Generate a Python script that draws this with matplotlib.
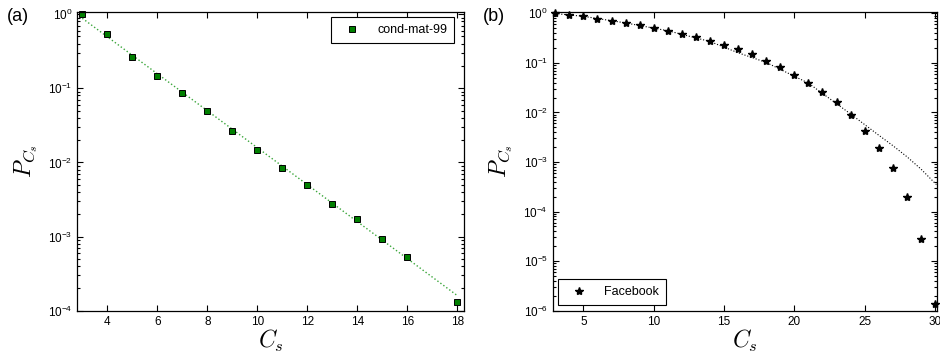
import matplotlib
matplotlib.use("Agg")
import matplotlib.pyplot as plt
from matplotlib.ticker import LogLocator, NullFormatter

plt.rcParams["font.family"] = ["Liberation Sans", "DejaVu Sans"]

# (a) cond-mat-99
cs_a = [3, 4, 5, 6, 7, 8, 9, 10, 11, 12, 13, 14, 15, 16, 18]
p_a = [1.0, 0.54, 0.267, 0.148, 0.0872, 0.0498, 0.0267, 0.0148, 0.0083,
       0.00489, 0.00276, 0.00171, 0.00092, 0.000525, 0.000131]
fit_a_x = [3, 18]
fit_a_y = [0.88, 1.6e-4]

# (b) Facebook
cs_b = list(range(3, 31))
p_b = [1.0, 0.94, 0.87, 0.78, 0.70, 0.64, 0.57, 0.505, 0.446, 0.388, 0.332,
       0.275, 0.232, 0.187, 0.151, 0.110, 0.081, 0.0558, 0.0391, 0.0253,
       0.0159, 0.00895, 0.00419, 0.0019, 0.00077, 0.000197, 2.85e-5, 1.34e-6]
fit_b_x = [2.8, 5, 8, 11, 14, 16, 18, 21, 24, 26, 27, 28, 29, 30.1]
fit_b_y = [1.0, 0.87, 0.64, 0.445, 0.27, 0.16, 0.102, 0.039, 0.0093,
           0.00347, 0.00214, 0.00128, 0.00072, 0.00035]

fig = plt.figure(figsize=(9.4, 3.6), dpi=100)
ax1 = fig.add_axes([0.0822, 0.137, 0.4117, 0.8306])
ax2 = fig.add_axes([0.588, 0.137, 0.4085, 0.8306])

ax1.plot(fit_a_x, fit_a_y, ls=":", color="#3aa63a", lw=1.0)
ax1.plot(cs_a, p_a, ls="none", marker="s", ms=4.5, mfc="#007f00",
         mec="black", mew=0.7, label="cond-mat-99", clip_on=False)
ax1.set_xlim(2.8, 18.28)
ax1.set_ylim(1e-4, 1.08)
ax1.set_xticks([4, 6, 8, 10, 12, 14, 16, 18])

ax2.plot(fit_b_x, fit_b_y, ls=":", color="black", lw=0.8)
ax2.plot(cs_b, p_b, ls="none", marker="*", ms=6, color="black",
         label="Facebook", clip_on=False)
ax2.set_xlim(2.82, 30.12)
ax2.set_ylim(1e-6, 1.08)
ax2.set_xticks([5, 10, 15, 20, 25, 30])

for ax in (ax1, ax2):
    ax.set_yscale("log")
    ax.yaxis.set_major_locator(LogLocator(base=10, numticks=20))
    ax.yaxis.set_minor_locator(LogLocator(base=10, subs=range(2, 10), numticks=20))
    ax.yaxis.set_minor_formatter(NullFormatter())
    ax.tick_params(which="both", direction="in", top=True, right=True,
                   labelsize=8.5, width=0.8)
    ax.tick_params(which="major", length=4)
    ax.tick_params(which="minor", length=2)
    for s in ax.spines.values():
        s.set_linewidth(0.9)
    ax.set_xlabel("$C_s$", math_fontfamily="cm", fontsize=17, labelpad=0)
    ax.set_ylabel("$P_{C_s}$", math_fontfamily="cm", fontsize=17, labelpad=6)

leg_style = dict(fontsize=9, fancybox=False, framealpha=1, edgecolor="black",
                 handletextpad=0.92, borderpad=0.55, handlelength=2.2,
                 borderaxespad=0.45)
leg1 = ax1.legend(loc="upper right", bbox_to_anchor=(0.988, 1.0), **leg_style)
leg1.get_frame().set_linewidth(0.8)
leg2 = ax2.legend(loc="lower left", **leg_style)
leg2.get_frame().set_linewidth(0.8)

fig.text(0.007, 0.955, "(a)", fontsize=13, va="center")
fig.text(0.514, 0.955, "(b)", fontsize=13, va="center")

fig.savefig("out.png", dpi=100)
